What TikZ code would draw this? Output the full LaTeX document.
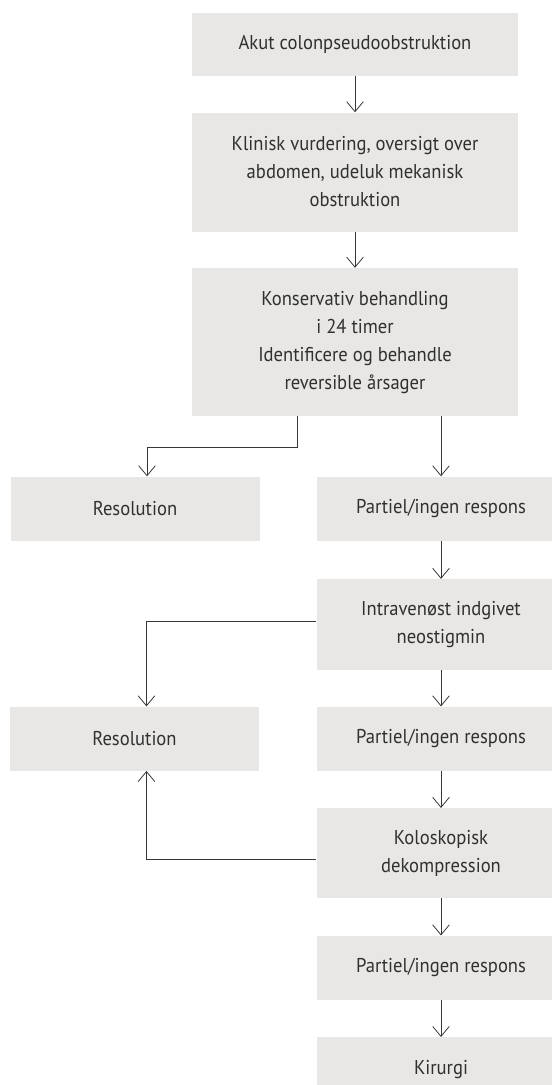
\documentclass[tikz,border=0pt]{standalone}
\usepackage{fontspec}
\setmainfont{PT Sans}[FakeStretch=0.93]
\usepackage{xcolor}
\usetikzlibrary{arrows.meta,positioning}

\definecolor{boxgray}{RGB}{232,231,229}
\definecolor{textgray}{RGB}{48,48,48}
\definecolor{linegray}{RGB}{55,55,55}

\begin{document}
\begin{tikzpicture}[
    x=0.75pt, y=-0.75pt,
    block/.style={fill=boxgray, text=textgray, align=center, inner sep=0pt, font=\fontsize{15}{21}\selectfont},
    wide/.style={block, minimum width=244.5pt},
    side/.style={block, minimum width=186.75pt},
    single/.style={side, minimum height=48pt},
    arr/.style={-{Straight Barb[length=7.5pt,width=12.5pt]}, draw=linegray, line width=0.6pt},
]

\useasboundingbox (0,0) rectangle (551,1085);

% Main column
\node[wide, minimum height=47.25pt] (acute) at (355,44.5) {Akut colonpseudoobstruktion};
\node[wide, minimum height=89.25pt, below=27pt of acute] (clinical) {Klinisk vurdering, oversigt over\\abdomen, udeluk mekanisk\\obstruktion};
\node[wide, minimum height=111pt, below=27pt of clinical] (conserv) {Konservativ behandling\\i 24 timer\\Identificere og behandle\\reversible årsager};

% First split
\node[single, below=45pt of conserv, xshift=-165pt] (res1) {Resolution};
\node[single, below=45pt of conserv, xshift=64.5pt] (part1) {Partiel/ingen respons};

% Neostigmin
\node[side, minimum height=68.25pt, below=28.5pt of part1] (neo) {Intravenøst indgivet\\neostigmin};
\node[single, below=27pt of neo] (part2) {Partiel/ingen respons};
\node[single, left=42.75pt of part2] (res2) {Resolution};

% Koloskopi
\node[side, minimum height=67.5pt, below=27.75pt of part2] (colo) {Koloskopisk\\dekompression};
\node[single, below=27.75pt of colo] (part3) {Partiel/ingen respons};
\node[single, below=27.75pt of part3] (surg) {Kirurgi};

% Arrows: main column
\draw[arr] (acute) -- (clinical);
\draw[arr] (clinical) -- (conserv);

% Arrows: conservative -> outcomes
\draw[arr] (part1.north |- conserv.south) -- (part1);
\draw[arr] ([xshift=-43.5pt]conserv.south) -- ++(0,-23.25pt) -| ([xshift=9pt]res1.north);

% Arrows: neostigmin
\draw[arr] (part1) -- (neo);
\draw[arr] ([yshift=2.6pt]neo.west) -| ([xshift=9pt]res2.north);
\draw[arr] (neo) -- (part2);

% Arrows: koloskopi
\draw[arr] (part2) -- (colo);
\draw[arr] ([yshift=-4.5pt]colo.west) -| ([xshift=9pt]res2.south);
\draw[arr] (colo) -- (part3);
\draw[arr] (part3) -- (surg);

\end{tikzpicture}
\end{document}
